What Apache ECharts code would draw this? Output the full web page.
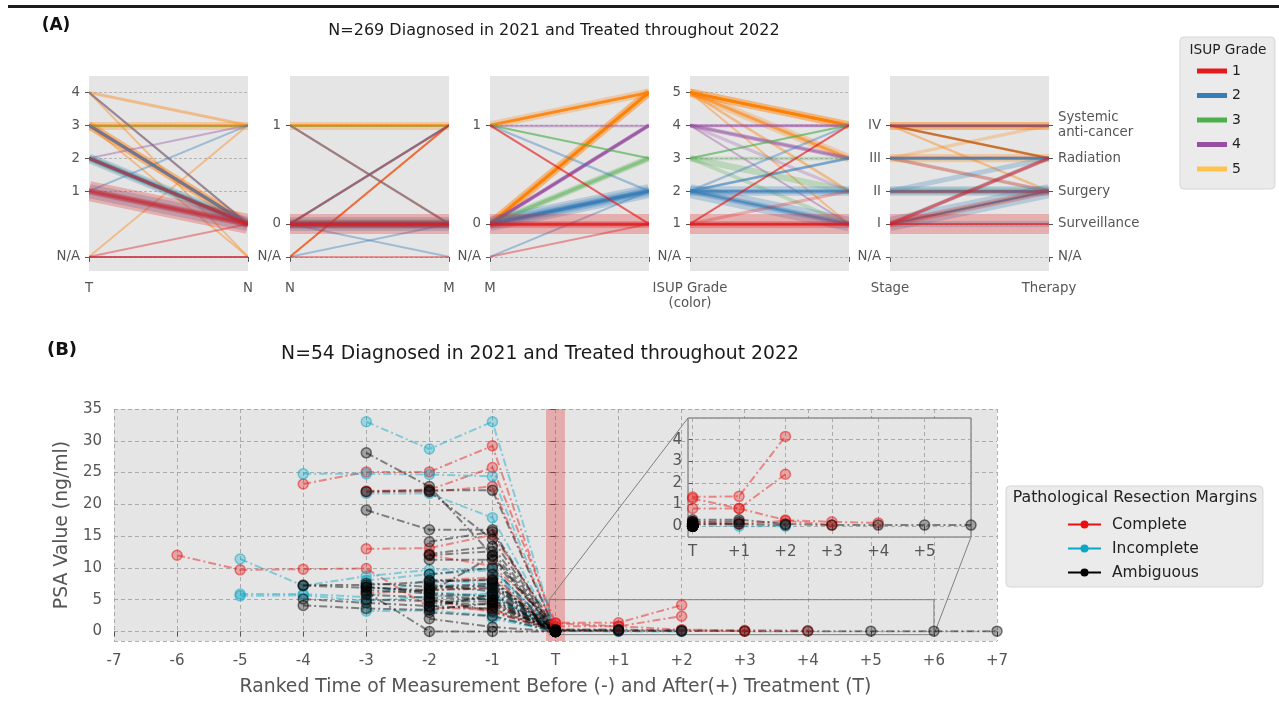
<!DOCTYPE html>
<html><head><meta charset="utf-8">
<script src="https://cdn.jsdelivr.net/npm/echarts@6/dist/echarts.min.js"></script>
<style>html,body{margin:0;padding:0;background:#fff;}#chart{width:1279px;height:703px;}</style>
</head><body><div id="chart"></div>
<script>
// ---------- DATA: panel (A) parallel categories ----------
const tTicks = ['N/A', null, '1', '2', '3', '4'];
const nTicks = ['N/A', '0', null, null, '1'];
const mTicks = ['N/A', '0', null, null, '1'];
const isupTicks = ['N/A', '1', '2', '3', '4', '5'];
const stageTicks = ['N/A', 'I', 'II', 'III', 'IV'];
const therapyTicks = ['N/A', 'Surveillance', 'Surgery', 'Radiation', 'Systemic'];
const therapyLabels = ['N/A', 'Surveillance', 'Surgery', 'Radiation', 'Systemic\nanti-cancer'];
const axisNamesLeft = ['T', 'N', 'M', 'ISUP Grade\n(color)', 'Stage'];
const axisNamesRight = ['N', 'M', '', '', 'Therapy'];
const isupNames = ['1', '2', '3', '4', '5'];
// pathway groups: T, N, M, ISUP, Stage, Therapy, patient count
const pathways = [
  ['1','0','0','1','I','Surveillance',48],
  ['1','0','0','1','I','Surgery',12],
  ['1','0','0','1','I','Radiation',5],
  ['2','0','0','1','II','Surgery',4],
  ['2','0','0','1','I','Radiation',3],
  ['N/A','N/A','1','1','IV','Systemic',1],
  ['N/A','0','0','1','I','Surveillance',1],
  ['1','0','1','1','IV','Radiation',1],
  ['N/A','N/A','N/A','1','I','Surveillance',1],
  ['1','0','0','2','I','Surgery',28],
  ['1','0','0','2','I','Surveillance',10],
  ['2','0','0','2','II','Surgery',18],
  ['2','0','0','2','II','Radiation',8],
  ['1','0','0','2','I','Radiation',6],
  ['2','0','0','2','III','Radiation',3],
  ['3','0','0','2','II','Surgery',3],
  ['N/A','N/A','0','2','I','Surgery',1],
  ['1','1','0','2','III','Radiation',1],
  ['2','0','N/A','2','II','Surgery',1],
  ['2','0','1','2','IV','Systemic',2],
  ['4','0','0','2','I','Surgery',1],
  ['2','0','0','3','II','Surgery',11],
  ['2','0','0','3','I','Surgery',5],
  ['2','0','0','3','III','Radiation',4],
  ['3','0','1','3','IV','Systemic',1],
  ['3','1','1','3','IV','Radiation',1],
  ['2','0','0','4','III','Radiation',6],
  ['3','0','0','4','III','Surgery',5],
  ['2','0','0','4','II','Surgery',4],
  ['3','0','0','4','IV','Systemic',3],
  ['3','0','1','4','IV','Systemic',2],
  ['4','0','0','4','I','Surgery',1],
  ['2','1','0','4','III','Radiation',1],
  ['3','0','0','5','IV','Systemic',14],
  ['3','0','0','5','III','Radiation',15],
  ['3','0','0','5','III','Systemic',4],
  ['3','1','1','5','IV','Systemic',14],
  ['3','1','1','5','IV','Radiation',3],
  ['4','1','1','5','IV','Systemic',3],
  ['4','0','0','5','IV','Surgery',2],
  ['2','0','0','5','III','Surgery',3],
  ['3','0','0','5','II','Surgery',3],
  ['N/A','1','0','5','IV','Systemic',1],
  ['3','N/A','1','5','IV','Systemic',1],
  ['4','N/A','1','5','IV','Systemic',1],
  ['3','1','0','5','IV','Radiation',2],
  ['3','0','0','5','I','Surgery',1]
];

// ---------- DATA: panel (B) PSA trajectories [rank, PSA] ----------
const rankLabels = ['-7','-6','-5','-4','-3','-2','-1','T','+1','+2','+3','+4','+5','+6','+7'];
const marginNames = ['Complete', 'Incomplete', 'Ambiguous'];
const completePSA = [
  [[-6,12.0],[-5,9.7],[-4,9.8],[-3,9.9],[-2,3.8],[-1,3.4],[0,0.1]],
  [[-4,23.2],[-3,25.1],[-2,25.1],[-1,29.2],[0,0.2]],
  [[-3,22.1],[-2,22.3],[-1,25.8],[0,1.35],[1,1.38],[2,4.15]],
  [[-3,22.0],[-2,22.0],[-1,22.8],[0,0.1]],
  [[-3,13.0],[-2,13.1],[-1,15.2],[0,0.82],[1,0.82],[2,2.4]],
  [[-2,12.0],[-1,10.3],[0,1.28],[1,0.82],[2,0.28],[3,0.2],[4,0.15]],
  [[-2,8.0],[-1,8.5],[0,0.1],[1,0.1],[2,0.25],[3,0.05]],
  [[-1,4.5],[0,0.05]],
  [[-2,5.0],[-1,3.0],[0,0.1]],
  [[-3,6.0],[-2,6.5],[-1,7.0],[0,0.2],[1,0.1]]
];
const incompletePSA = [
  [[-3,33.0],[-2,28.7],[-1,33.0],[0,0.1]],
  [[-4,24.8],[-3,24.8],[-2,24.7],[-1,24.4],[0,0.05]],
  [[-3,21.7],[-2,21.7],[-1,17.9],[0,0.1]],
  [[-5,11.4],[-4,7.2],[-3,8.7],[-2,9.7],[-1,9.8],[0,0.05]],
  [[-5,5.6],[-4,5.7],[-3,4.8],[-2,5.5],[-1,6.0],[0,0.0]],
  [[-5,5.9],[-4,5.9],[-3,5.4],[-2,8.2],[-1,7.4],[0,0.1]],
  [[-3,8.0],[-2,9.0],[-1,9.6],[0,0.1]],
  [[-3,3.2],[-2,3.3],[-1,2.5],[0,0.0]],
  [[-2,7.5],[-1,7.0],[0,0.0]],
  [[-3,7.0],[-2,6.2],[-1,5.6],[0,0.05]],
  [[-2,4.2],[-1,5.5],[0,0.0]],
  [[-1,2.0],[0,0.05],[1,0.0],[2,0.0]]
];
const ambiguousPSA = [
  [[-3,28.1],[-2,22.8],[-1,12.0],[0,0.0]],
  [[-3,22.0],[-2,22.2],[-1,22.2],[0,0.1]],
  [[-3,19.1],[-2,16.0],[-1,16.0],[0,0.2]],
  [[-2,14.1],[-1,15.7],[0,0.0]],
  [[-2,12.2],[-1,13.4],[0,0.1]],
  [[-2,11.3],[-1,11.3],[0,0.0]],
  [[-4,7.3],[-3,7.3],[-2,7.8],[-1,8.2],[0,0.1]],
  [[-4,7.2],[-3,6.9],[-2,6.5],[-1,6.8],[0,0.0]],
  [[-4,5.1],[-3,4.5],[-2,4.0],[-1,3.6],[0,0.05]],
  [[-4,4.1],[-3,3.6],[-2,3.4],[-1,4.5],[0,0.0]],
  [[-3,6.5],[-2,6.0],[-1,5.5],[0,0.0]],
  [[-3,7.6],[-2,7.0],[-1,7.5],[0,0.1]],
  [[-3,5.8],[-2,5.3],[-1,5.0],[0,0.0]],
  [[-3,6.2],[-2,0.0],[-1,0.0],[0,0.0]],
  [[-2,2.0],[-1,0.7],[0,0.0]],
  [[-2,8.0],[-1,8.0],[0,0.05]],
  [[-2,6.8],[-1,7.2],[0,0.0]],
  [[-2,5.8],[-1,5.0],[0,0.3],[1,0.3],[2,0.1],[3,0.05],[4,0.05],[5,0.05],[6,0.05],[7,0.05]],
  [[-2,4.6],[-1,4.2],[0,0.1],[1,0.1],[2,0.05]],
  [[-1,6.0],[0,0.0]],
  [[-1,4.0],[0,0.05]],
  [[-2,3.0],[-1,2.4],[0,0.0]],
  [[-1,9.0],[0,0.1]],
  [[-2,7.3],[-1,6.3],[0,0.2],[1,0.2]],
  [[-2,12.0],[-1,12.6],[0,0.0]],
  [[-2,9.0],[-1,10.0],[0,0.0]],
  [[-2,5.2],[-1,3.2],[0,0.0]],
  [[-3,5.0],[-2,4.8],[-1,4.7],[0,0.0]],
  [[-1,7.8],[0,0.1]],
  [[-2,3.8],[-1,5.8],[0,0.05]],
  [[-3,7.0],[-2,6.2],[-1,11.8],[0,0.0]],
  [[-2,22.0],[-1,14.5],[0,0.0]]
];

// ---------- STYLE / LAYOUT ----------
const FONT = 'DejaVu Sans';
const TXT = '#555555';
const isupColors = ['#e41a1c', '#377eb8', '#4daf4a', '#984ea3', '#ff7f00'];
const isupLegendColors = ['#e41a1c', '#377eb8', '#4daf4a', '#984ea3', '#ffc34d'];
const marginColors = ['#e81010', '#0aa8c8', '#000000'];
const panelLeft = [89, 290, 490, 690, 890];
const allTicks = [tTicks, nTicks, mTicks, isupTicks, stageTicks, therapyTicks];

function levelsOf(ticks) { const r = []; ticks.forEach((t, i) => { if (t !== null) r.push(i); }); return r; }
function rgba(hex, a) {
  const n = parseInt(hex.slice(1), 16);
  return 'rgba(' + (n >> 16 & 255) + ',' + (n >> 8 & 255) + ',' + (n & 255) + ',' + a + ')';
}

const grids = [], xAxes = [], yAxes = [], series = [];

for (let i = 0; i < 5; i++) {
  grids.push({ left: panelLeft[i], top: 76, width: 159, height: 195, show: true, backgroundColor: '#e5e5e5', borderWidth: 0 });
  xAxes.push({
    gridIndex: i, type: 'value', min: 0, max: 1,
    axisLine: { show: false }, splitLine: { show: false },
    axisTick: { show: true, customValues: [0, 1], length: 5, lineStyle: { color: TXT } },
    axisLabel: { customValues: [0, 1], margin: 10, color: TXT, fontSize: 13.3, fontFamily: FONT, lineHeight: 15,
      formatter: (v) => v < 0.5 ? axisNamesLeft[i] : axisNamesRight[i] }
  });
  const ticks = allTicks[i];
  const lv = levelsOf(ticks);
  yAxes.push({
    gridIndex: i, type: 'value', min: -0.43, max: 5.5,
    axisLine: { show: false }, splitLine: { show: false },
    axisTick: { show: true, customValues: lv, length: 4, lineStyle: { color: TXT } },
    axisLabel: { customValues: lv, margin: 9, color: TXT, fontSize: 13.3, fontFamily: FONT,
      formatter: (v) => ticks[Math.round(v)] || '' }
  });
}
// right-hand Therapy axis (yAxis 5, on grid 4)
const thLv = levelsOf(therapyTicks);
yAxes.push({
  gridIndex: 4, type: 'value', min: -0.43, max: 5.5, position: 'right',
  axisLine: { show: false }, splitLine: { show: false },
  axisTick: { show: true, customValues: thLv, length: 4, lineStyle: { color: TXT } },
  axisLabel: { customValues: thLv, margin: 9, color: TXT, fontSize: 13.3, fontFamily: FONT, lineHeight: 15,
    formatter: (v) => therapyLabels[Math.round(v)] || '' }
});

// gridlines + pathway lines per panel
const sortedPaths = pathways.slice().sort((a, b) => (b[3] - a[3]) || (b[6] - a[6]));
for (let i = 0; i < 5; i++) {
  const ticks = allTicks[i];
  series.push({
    type: 'lines', coordinateSystem: 'cartesian2d', xAxisIndex: i, yAxisIndex: i, silent: true, z: 1,
    lineStyle: { color: '#b5b5b5', width: 1, type: [3, 2], opacity: 1 },
    data: levelsOf(ticks).map(l => ({ coords: [[0, l], [1, l]] }))
  });
  series.push({
    type: 'lines', coordinateSystem: 'cartesian2d', xAxisIndex: i, yAxisIndex: i, silent: true, z: 2,
    data: sortedPaths.map(p => {
      const a = allTicks[i].indexOf(p[i]);
      const b = allTicks[i + 1].indexOf(p[i + 1]);
      const c = p[6];
      return {
        coords: [[0, a], [1, b]],
        lineStyle: { color: isupColors[Number(p[3]) - 1], width: Math.min(20, 1.5 + c * 0.45), opacity: c <= 3 ? 0.4 : 0.27, cap: 'butt' }
      };
    })
  });
}
// ISUP legend dummies
isupNames.forEach((n, k) => series.push({
  type: 'line', name: n, xAxisIndex: 0, yAxisIndex: 0, data: [],
  itemStyle: { color: isupLegendColors[k] }, lineStyle: { color: isupLegendColors[k] }
}));

// ---------- Panel (B) ----------
const gridLine = { show: true, lineStyle: { color: '#9a9a9a', type: [4, 3], width: 0.8 } };
grids.push({ left: 114, top: 409, width: 883, height: 232, show: true, backgroundColor: '#e5e5e5', borderWidth: 0 });
xAxes.push({
  gridIndex: 5, type: 'value', min: -7, max: 7, interval: 1,
  axisLine: { show: false },
  axisTick: { show: true, length: 5, lineStyle: { color: TXT } },
  splitLine: gridLine,
  axisLabel: { color: TXT, fontSize: 15, fontFamily: FONT, margin: 13, formatter: (v) => rankLabels[Math.round(v) + 7] },
  name: 'Ranked Time of Measurement Before (-) and After(+) Treatment (T)', nameLocation: 'middle', nameGap: 37,
  nameTextStyle: { color: TXT, fontSize: 18.8, fontFamily: FONT }
});
yAxes.push({
  gridIndex: 5, type: 'value', min: -1.5, max: 35, splitNumber: 7, minInterval: 5, maxInterval: 5,
  axisLine: { show: false },
  axisTick: { show: true, length: 5, lineStyle: { color: TXT } },
  splitLine: gridLine,
  axisLabel: { color: TXT, fontSize: 15, fontFamily: FONT, margin: 12, showMinLabel: false,
    formatter: (v) => Number.isInteger(v) ? String(v) : '' },
  name: 'PSA Value (ng/ml)', nameLocation: 'middle', nameGap: 40,
  nameTextStyle: { color: TXT, fontSize: 18.8, fontFamily: FONT }
});
// inset
grids.push({ left: 688, top: 418, width: 283, height: 119, show: true, backgroundColor: '#e5e5e5', borderColor: '#666', borderWidth: 1, z: 3 });
xAxes.push({
  gridIndex: 6, type: 'value', min: -0.1, max: 6, splitNumber: 6, minInterval: 1, maxInterval: 1, z: 3,
  axisLine: { show: false },
  axisTick: { show: true, length: 4, lineStyle: { color: TXT } },
  splitLine: gridLine,
  axisLabel: { color: TXT, fontSize: 15, fontFamily: FONT, margin: 8, showMinLabel: false, showMaxLabel: false,
    formatter: (v) => (Number.isInteger(v) && v >= 0 && v <= 5) ? rankLabels[v + 7] : '' }
});
yAxes.push({
  gridIndex: 6, type: 'value', min: -0.5, max: 5, splitNumber: 5, minInterval: 1, maxInterval: 1, z: 3,
  axisLine: { show: false },
  axisTick: { show: true, length: 4, lineStyle: { color: TXT } },
  splitLine: gridLine,
  axisLabel: { color: TXT, fontSize: 15, fontFamily: FONT, margin: 6, showMinLabel: false, showMaxLabel: false,
    formatter: (v) => (Number.isInteger(v) && v >= 0 && v <= 4) ? String(v) : '' }
});

// treatment band + zoom rectangle
series.push({
  type: 'line', xAxisIndex: 5, yAxisIndex: 6, data: [], silent: true, z: 1,
  markArea: { silent: true, label: { show: false }, data: [
    [{ xAxis: -0.15, yAxis: -1.5, itemStyle: { color: 'rgba(228,26,28,0.28)', borderWidth: 0 } }, { xAxis: 0.15, yAxis: 35 }],
    [{ xAxis: -0.1, yAxis: -0.5, itemStyle: { color: 'rgba(0,0,0,0)', borderColor: '#808080', borderWidth: 1 } }, { xAxis: 6, yAxis: 5 }]
  ] }
});

const groups = [completePSA, incompletePSA, ambiguousPSA];
groups.forEach((g, k) => {
  const col = marginColors[k];
  g.forEach(pts => {
    const base = {
      type: 'line', symbol: 'circle', symbolSize: 10, silent: true, clip: false,
      lineStyle: { color: rgba(col, 0.45), width: 2, type: [8, 3, 2, 3] },
      itemStyle: { color: rgba(col, 0.3), borderColor: rgba(col, 0.5), borderWidth: 1.5 }
    };
    series.push(Object.assign({}, base, { xAxisIndex: 5, yAxisIndex: 6, z: 2, data: pts }));
    const ins = pts.filter(p => p[0] >= 0 && p[0] <= 6);
    if (ins.length) series.push(Object.assign({}, base, { xAxisIndex: 6, yAxisIndex: 7, z: 4, data: ins }));
  });
});
marginNames.forEach((n, k) => series.push({
  type: 'line', name: n, xAxisIndex: 5, yAxisIndex: 6, data: [], symbol: 'circle', symbolSize: 9,
  itemStyle: { color: marginColors[k] }, lineStyle: { color: marginColors[k], width: 2 }
}));

const chart = echarts.init(document.getElementById('chart'));
chart.setOption({
  animation: false,
  textStyle: { fontFamily: FONT },
  grid: grids, xAxis: xAxes, yAxis: yAxes, series: series,
  legend: [
    { data: isupNames, orient: 'vertical', left: 1180, top: 37, selectedMode: false, icon: 'rect',
      backgroundColor: '#ebebeb', borderColor: '#d5d5d5', borderWidth: 1, borderRadius: 4,
      padding: [26, 34, 12, 17], itemWidth: 30, itemHeight: 5, itemGap: 8.5,
      textStyle: { fontSize: 14, color: '#222', lineHeight: 16, fontFamily: FONT } },
    { data: marginNames, orient: 'vertical', left: 1006, top: 486, selectedMode: false,
      backgroundColor: '#ebebeb', borderColor: '#d5d5d5', borderWidth: 1, borderRadius: 4,
      padding: [30, 64, 6, 61], itemWidth: 33, itemHeight: 10, itemGap: 7,
      textStyle: { fontSize: 15.5, color: '#222', lineHeight: 17, fontFamily: FONT, padding: [0, 0, 0, 6] } }
  ]
});

const a1 = chart.convertToPixel({ gridIndex: 5 }, [-0.1, 5]);
const a2 = chart.convertToPixel({ gridIndex: 6 }, [-0.1, 5]);
const b1 = chart.convertToPixel({ gridIndex: 5 }, [6, -0.5]);
const b2 = chart.convertToPixel({ gridIndex: 6 }, [6, -0.5]);
function txt(x, y, s, font, fill) {
  return { type: 'text', x: x, y: y, silent: true, z: 10,
    style: { text: s, font: font, fill: fill || '#1a1a1a', align: 'center', verticalAlign: 'middle', textAlign: 'center', textVerticalAlign: 'middle' } };
}
chart.setOption({
  graphic: [
    { type: 'rect', shape: { x: 8, y: 5, width: 1271, height: 3 }, style: { fill: '#1c1c1c' }, silent: true },
    txt(56, 26, '(A)', 'bold 17px DejaVu Sans', '#111'),
    txt(554, 31, 'N=269 Diagnosed in 2021 and Treated throughout 2022', '16px DejaVu Sans'),
    txt(62, 350, '(B)', 'bold 18px DejaVu Sans', '#111'),
    txt(540, 354, 'N=54 Diagnosed in 2021 and Treated throughout 2022', '18.8px DejaVu Sans'),
    txt(1228, 50, 'ISUP Grade', '13.7px DejaVu Sans', '#222'),
    txt(1135, 498, 'Pathological Resection Margins', '15.8px DejaVu Sans', '#222'),
    { type: 'line', shape: { x1: a1[0], y1: a1[1], x2: a2[0], y2: a2[1] }, style: { stroke: '#808080', lineWidth: 1 }, silent: true, z: 1 },
    { type: 'line', shape: { x1: b1[0], y1: b1[1], x2: b2[0], y2: b2[1] }, style: { stroke: '#808080', lineWidth: 1 }, silent: true, z: 1 }
  ]
});
</script>
</body></html>
